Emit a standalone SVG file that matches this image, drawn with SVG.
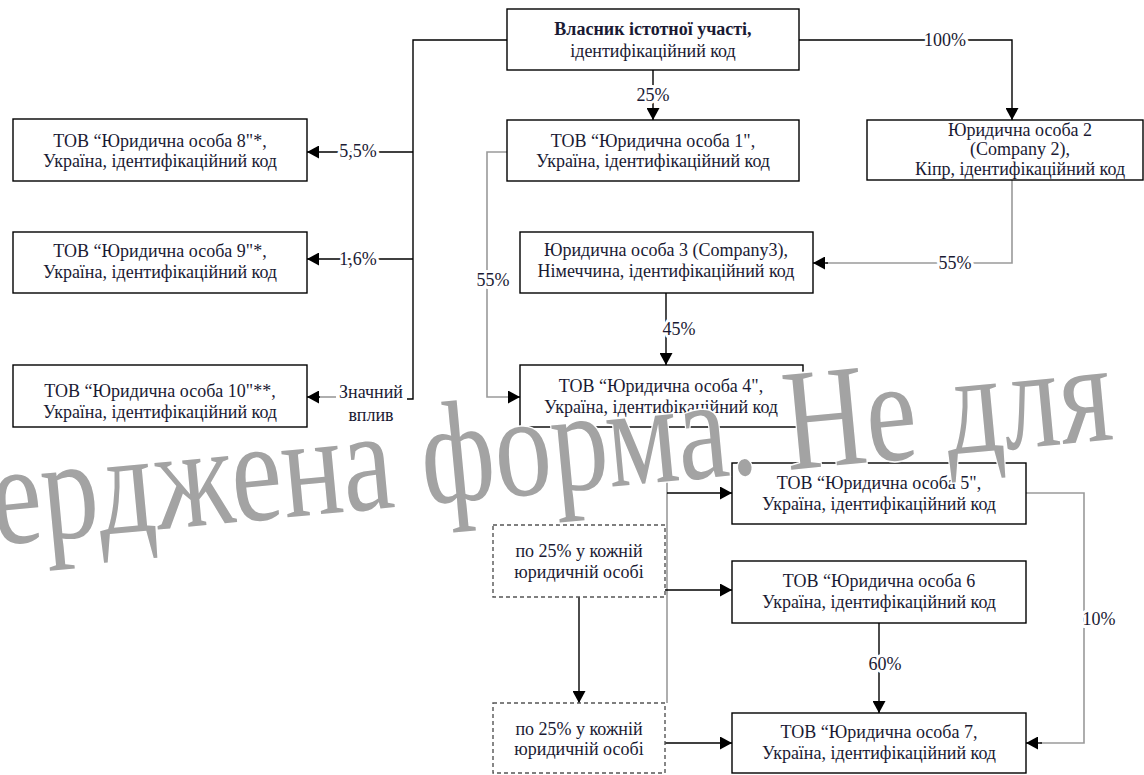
<svg xmlns="http://www.w3.org/2000/svg" width="1144" height="775" viewBox="0 0 1144 775" font-family="Liberation Serif, DejaVu Serif, serif">
<defs>
<marker id="ab" markerUnits="userSpaceOnUse" markerWidth="13" markerHeight="13" refX="12" refY="6.5" orient="auto"><path d="M0,0 L12,6.5 L0,13 z" fill="#000"/></marker>
<style>
.box{fill:#fff;stroke:#000;stroke-width:1.4}
.dbox{fill:#fff;stroke:#555;stroke-width:1.4;stroke-dasharray:4 3}
.t{font-size:18px;fill:#1a1a33;text-anchor:middle}
.b{font-weight:bold}
.ln{fill:none;stroke:#000;stroke-width:1.4}
.gl{fill:none;stroke:#9a9a9a;stroke-width:1.6}
.lb{font-size:18px;fill:#1a1a33;text-anchor:middle;stroke:#fff;stroke-width:6;paint-order:stroke;stroke-linejoin:round}
.wm{font-size:145px;fill:#a3a3a3;stroke:#fff;stroke-width:3;paint-order:stroke}
</style>
</defs>
<g id="connectors">
<path class="ln" d="M653,70 V120" marker-end="url(#ab)"/>
<text class="lb" x="653" y="101">25%</text>
<path class="ln" d="M799,40 H1012 V120" marker-end="url(#ab)"/>
<text class="lb" x="945" y="46">100%</text>
<path class="ln" d="M507,40 H413 V399 H407"/>
<path class="ln" d="M413,152 H307" marker-end="url(#ab)"/>
<text class="lb" x="358" y="157">5,5%</text>
<path class="ln" d="M413,259 H307" marker-end="url(#ab)"/>
<text class="lb" x="358" y="265">1,6%</text>
<path class="gl" d="M336,397 H318"/>
<path class="ln" d="M320,397 H307" marker-end="url(#ab)"/>
<text class="lb" x="371" y="398">Значний</text>
<text class="lb" x="371" y="421">вплив</text>
<path class="gl" d="M507,152 H487 V397 H510"/>
<path class="ln" d="M508,397 H520" marker-end="url(#ab)"/>
<text class="lb" x="493" y="286">55%</text>
<path class="gl" d="M1012,180 V263 H826"/>
<path class="ln" d="M828,263 H813" marker-end="url(#ab)"/>
<text class="lb" x="955" y="269">55%</text>
<path class="ln" d="M666,293 V365" marker-end="url(#ab)"/>
<text class="lb" x="679" y="335">45%</text>
<path class="gl" d="M667,427 V703"/>
<path class="ln" d="M667,493 H732" marker-end="url(#ab)"/>
<path class="ln" d="M665,590 H732" marker-end="url(#ab)"/>
<path class="ln" d="M665,743 H732" marker-end="url(#ab)"/>
<path class="ln" d="M579,597 V703" marker-end="url(#ab)"/>
<path class="ln" d="M879,623 V713" marker-end="url(#ab)"/>
<text class="lb" x="885" y="670">60%</text>
<path class="gl" d="M1026,493 H1084 V743 H1040"/>
<path class="ln" d="M1042,743 H1026" marker-end="url(#ab)"/>
<text class="lb" x="1099" y="625">10%</text>
</g>
<g id="owner">
<rect class="box" x="507" y="9" width="292" height="61"/>
<text class="t b" x="653" y="35">Власник істотної участі,</text>
<text class="t" x="653" y="57">ідентифікаційний код</text>
</g>
<g id="le1">
<rect class="box" x="507" y="120" width="292" height="61"/>
<text class="t" x="653" y="147">ТОВ “Юридична особа 1",</text>
<text class="t" x="653" y="167">Україна, ідентифікаційний код</text>
</g>
<g id="le2">
<rect class="box" x="867" y="120" width="276" height="60"/>
<text class="t" x="1020" y="136">Юридична особа 2</text>
<text class="t" x="1020" y="155">(Company 2),</text>
<text class="t" x="1020" y="175">Кіпр, ідентифікаційний код</text>
</g>
<g id="le3">
<rect class="box" x="520" y="232" width="293" height="61"/>
<text class="t" x="666" y="256">Юридична особа 3 (Company3),</text>
<text class="t" x="666" y="277">Німеччина, ідентифікаційний код</text>
</g>
<g id="le4">
<rect class="box" x="520" y="365" width="283" height="62"/>
<text class="t" x="661" y="392">ТОВ “Юридична особа 4",</text>
<text class="t" x="661" y="413">Україна, ідентифікаційний код</text>
</g>
<g id="le5">
<rect class="box" x="732" y="463" width="294" height="61"/>
<text class="t" x="879" y="489">ТОВ “Юридична особа 5",</text>
<text class="t" x="879" y="510">Україна, ідентифікаційний код</text>
</g>
<g id="le6">
<rect class="box" x="732" y="561" width="294" height="62"/>
<text class="t" x="879" y="587">ТОВ “Юридична особа 6</text>
<text class="t" x="879" y="608">Україна, ідентифікаційний код</text>
</g>
<g id="le7">
<rect class="box" x="732" y="713" width="294" height="60"/>
<text class="t" x="879" y="738">ТОВ “Юридична особа 7,</text>
<text class="t" x="879" y="759">Україна, ідентифікаційний код</text>
</g>
<g id="le8">
<rect class="box" x="13" y="119" width="294" height="62"/>
<text class="t" x="160" y="147">ТОВ “Юридична особа 8"*,</text>
<text class="t" x="160" y="167">Україна, ідентифікаційний код</text>
</g>
<g id="le9">
<rect class="box" x="13" y="232" width="294" height="61"/>
<text class="t" x="160" y="257">ТОВ “Юридична особа 9"*,</text>
<text class="t" x="160" y="278">Україна, ідентифікаційний код</text>
</g>
<g id="le10">
<rect class="box" x="13" y="365" width="294" height="62"/>
<text class="t" x="160" y="397">ТОВ “Юридична особа 10"**,</text>
<text class="t" x="160" y="418">Україна, ідентифікаційний код</text>
</g>
<g id="share1">
<rect class="dbox" x="493" y="525" width="172" height="72"/>
<text class="t" x="579" y="557">по 25% у кожній</text>
<text class="t" x="579" y="578">юридичній особі</text>
</g>
<g id="share2">
<rect class="dbox" x="493" y="703" width="172" height="70"/>
<text class="t" x="579" y="735">по 25% у кожній</text>
<text class="t" x="579" y="755">юридичній особі</text>
</g>
<g id="watermark">
<text class="wm" x="0" y="0" transform="translate(-5,545) rotate(-5.4)" textLength="1125" lengthAdjust="spacingAndGlyphs">ерджена форма. Не для</text>
</g>
</svg>
